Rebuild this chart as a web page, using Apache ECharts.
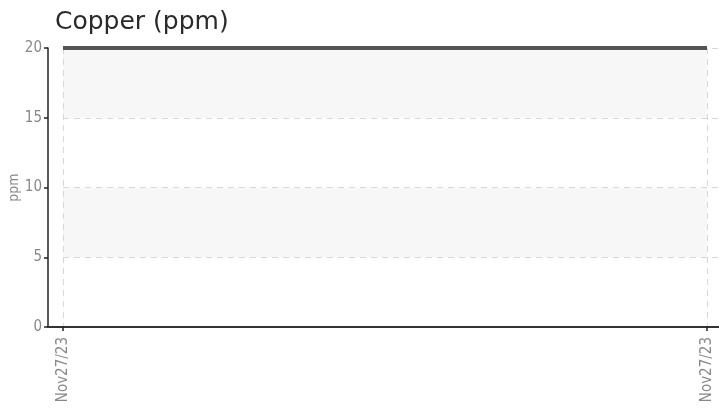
<!DOCTYPE html>
<html>
<head>
<meta charset="utf-8">
<script src="https://cdn.jsdelivr.net/npm/echarts@6/dist/echarts.min.js"></script>
<style>
  html, body { margin: 0; padding: 0; background: #fff; }
  #chart { width: 719px; height: 408px; }
</style>
</head>
<body>
<div id="chart"></div>
<script>
const dates = ['Nov27/23', 'Nov27/23'];
const copper = [20, 20];
const yMin = 0;
const yMax = 20;
const yStep = 5;

const LABEL_FONT = '"DejaVu Sans Condensed", "DejaVu Sans", sans-serif';
const GRID_TOP = 48;
const GRID_BOTTOM = 81;

const chart = echarts.init(document.getElementById('chart'), null, { renderer: 'canvas' });

chart.setOption({
  animation: false,
  backgroundColor: '#ffffff',
  title: {
    text: 'Copper (ppm)',
    left: 50,
    top: 5,
    textStyle: { fontFamily: '"DejaVu Sans", sans-serif', fontSize: 25, fontWeight: 'normal', color: '#2a2a2a' },
  },
  grid: [
    // main plot area, holds the data
    { left: 63, right: 12, top: GRID_TOP, bottom: GRID_BOTTOM, outerBoundsMode: 'none' },
    // horizontal dashed guides run to the right edge
    { left: 63, right: 0, top: GRID_TOP, bottom: GRID_BOTTOM, outerBoundsMode: 'none' },
    // the x axis line starts at the y axis
    { left: 48, right: 0, top: GRID_TOP, bottom: GRID_BOTTOM, outerBoundsMode: 'none' },
  ],
  xAxis: [
    {
      gridIndex: 0,
      type: 'category',
      data: dates,
      boundaryGap: false,
      axisLine: { show: false },
      axisTick: { show: true, length: 4, lineStyle: { color: '#222', width: 1.5 } },
      axisLabel: {
        rotate: 90,
        interval: 0,
        margin: 10,
        color: '#888',
        fontSize: 15,
        fontFamily: LABEL_FONT,
      },
      splitLine: { show: true, lineStyle: { color: '#d8d8d8', type: [6, 5], width: 1 } },
    },
    { gridIndex: 1, type: 'category', data: dates, show: false },
    {
      gridIndex: 2,
      type: 'value',
      min: 0,
      max: 1,
      axisLine: { show: true, lineStyle: { color: '#333', width: 2 } },
      axisTick: { show: false },
      axisLabel: { show: false },
      splitLine: { show: false },
    },
  ],
  yAxis: [
    {
      gridIndex: 0,
      type: 'value',
      min: yMin,
      max: yMax,
      interval: yStep,
      offset: 15,
      name: 'ppm',
      nameLocation: 'middle',
      nameGap: 27,
      nameMoveOverlap: false,
      nameTextStyle: { color: '#888', fontSize: 14, fontFamily: LABEL_FONT },
      axisLine: { show: true, lineStyle: { color: '#222', width: 1.5 } },
      axisTick: { show: true, length: 4, lineStyle: { color: '#222', width: 1.5 } },
      axisLabel: { color: '#888', fontSize: 15, fontFamily: LABEL_FONT, margin: 6 },
      splitLine: { show: false },
      splitArea: { show: true, areaStyle: { color: ['#ffffff', '#f7f7f7'] } },
    },
    {
      gridIndex: 1,
      type: 'value',
      min: yMin,
      max: yMax,
      interval: yStep,
      axisLine: { show: false },
      axisTick: { show: false },
      axisLabel: { show: false },
      splitLine: { show: true, lineStyle: { color: '#d8d8d8', type: [6, 5], width: 1 } },
    },
    { gridIndex: 2, type: 'value', min: 0, max: 1, show: false },
  ],
  series: [
    {
      name: 'Copper',
      type: 'line',
      xAxisIndex: 0,
      yAxisIndex: 0,
      data: copper,
      symbol: 'none',
      z: 5,
      lineStyle: { color: '#555', width: 4 },
    },
  ],
});
</script>
</body>
</html>
